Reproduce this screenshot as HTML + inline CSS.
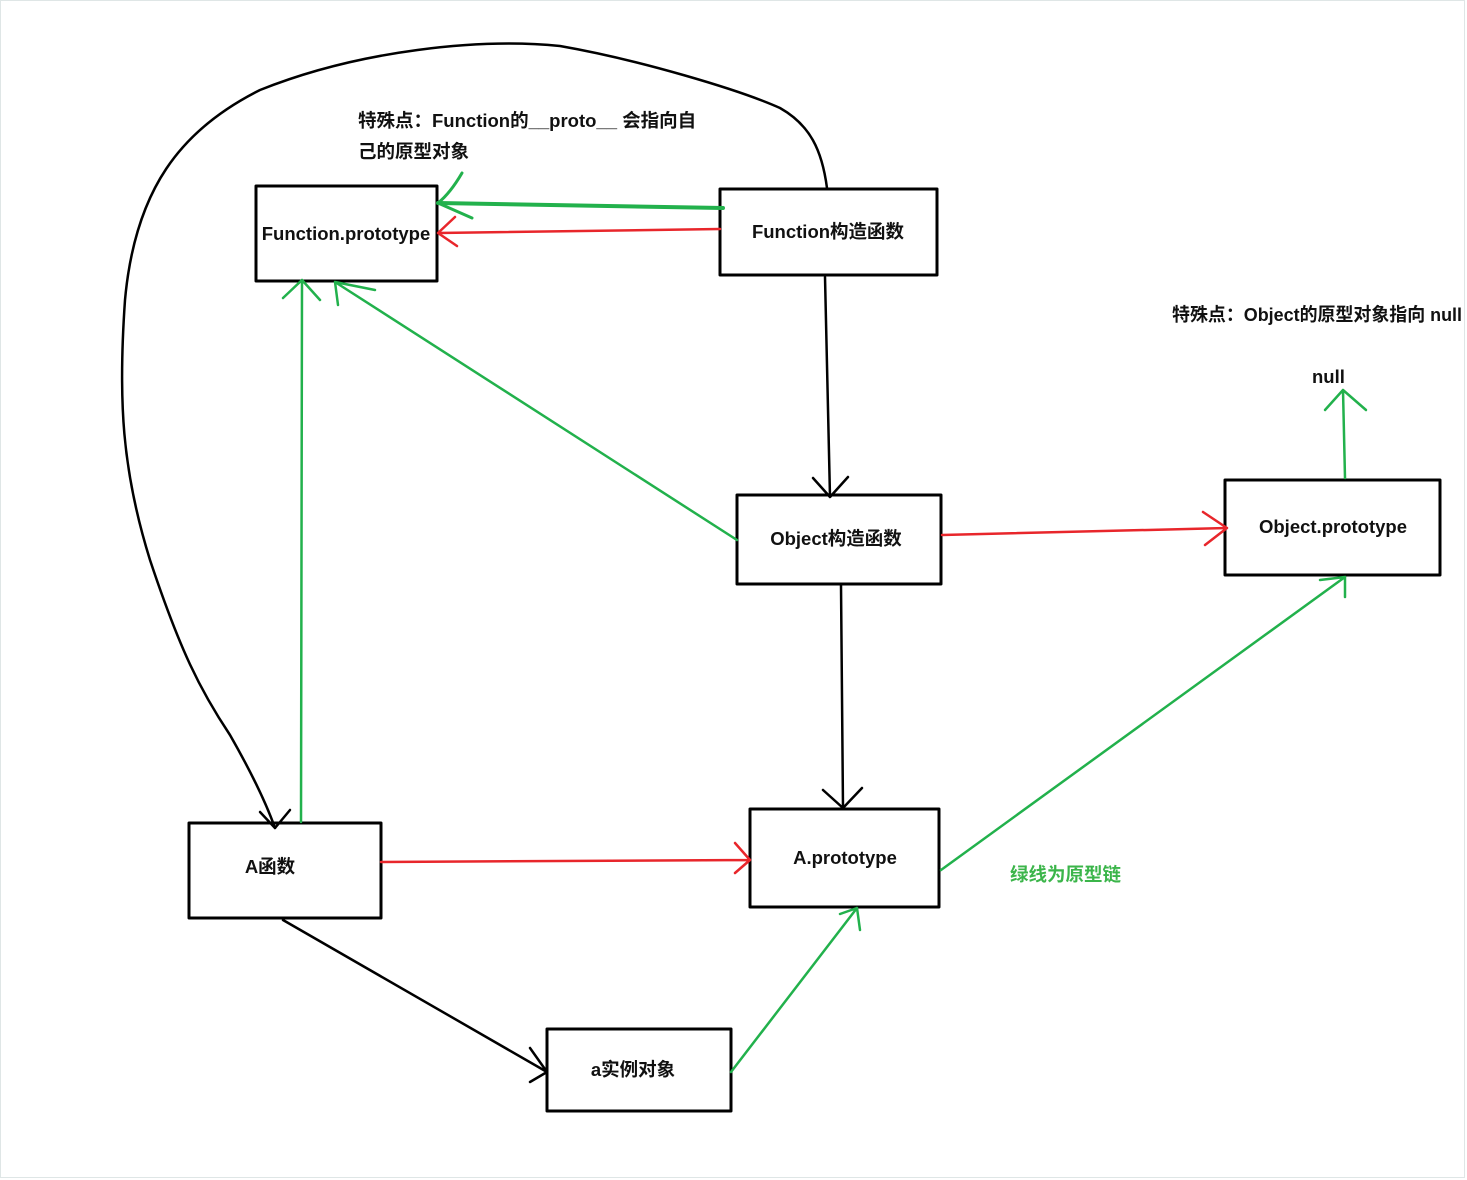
<!DOCTYPE html>
<html><head><meta charset="utf-8"><style>
html,body{margin:0;padding:0;background:#fff;}
svg{display:block}
text{font-family:"Liberation Sans","Noto Sans CJK SC",sans-serif;font-weight:bold;font-size:18.5px;fill:#111}
</style></head><body>
<svg width="1467" height="1180" viewBox="0 0 1467 1180" xmlns="http://www.w3.org/2000/svg">
<rect x="0.5" y="0.5" width="1464" height="1177" fill="#fff" stroke="#dfe6e6" stroke-width="1"/>
<g fill="none" stroke-linecap="round" stroke-linejoin="round">
<g stroke="#000" stroke-width="3">
<rect x="256" y="186" width="181" height="95"/>
<rect x="720" y="189" width="217" height="86"/>
<rect x="737" y="495" width="204" height="89"/>
<rect x="1225" y="480" width="215" height="95"/>
<rect x="189" y="823" width="192" height="95"/>
<rect x="750" y="809" width="189" height="98"/>
<rect x="547" y="1029" width="184" height="82"/>
</g>
<g stroke="#000" stroke-width="2.5">
<path d="M827,188 C822,150 810,125 780,108 C740,90 640,60 560,46 C480,38 360,50 260,90 C180,130 135,190 125,300 C118,400 122,470 150,560 C180,650 200,690 230,735 C250,770 265,800 275,828"/>
<path d="M260,812 L275,828 L290,810"/>
<path d="M825,277 L830,497 M813,478 L830,497 L848,477"/>
<path d="M841,585 L843,808 M823,790 L843,808 L862,788"/>
<path d="M283,920 L547,1072 M530,1048 L547,1072 L530,1082"/>
</g>
<g stroke="#e8262b" stroke-width="2.5">
<path d="M720,229 L438,233 M455,217 L438,233 L457,246"/>
<path d="M942,535 L1227,528 M1203,512 L1227,528 L1205,545"/>
<path d="M381,862 L750,860 M735,843 L750,860 L735,873"/>
</g>
<g stroke="#22b14c" stroke-width="2.5">
<path d="M723,208 L438,203" stroke-width="4"/>
<path d="M462,173 C455,185 448,195 438,203 L472,218" stroke-width="3"/>
<path d="M737,540 L335,282 M375,290 L335,282 L338,305"/>
<path d="M301,822 L302,280 M283,298 L302,280 L320,300"/>
<path d="M1345,478 L1343,390 M1325,410 L1343,390 L1366,410"/>
<path d="M941,870 L1345,577 M1320,580 L1345,577 L1345,597"/>
<path d="M731,1072 L857,908 M840,914 L857,908 L860,930"/>
</g>
</g>
<text x="358" y="127">特殊点：Function的__proto__ 会指向自</text>
<text x="358" y="158">己的原型对象</text>
<text x="1172" y="321" textLength="290" lengthAdjust="spacingAndGlyphs">特殊点：Object的原型对象指向 null</text>
<text x="1312" y="383">null</text>
<text x="346" y="240" text-anchor="middle">Function.prototype</text>
<text x="828" y="238" text-anchor="middle">Function构造函数</text>
<text x="836" y="545" text-anchor="middle">Object构造函数</text>
<text x="1333" y="533" text-anchor="middle">Object.prototype</text>
<text x="270" y="873" text-anchor="middle">A函数</text>
<text x="845" y="864" text-anchor="middle">A.prototype</text>
<text x="633" y="1076" text-anchor="middle">a实例对象</text>
<text x="1010" y="881" style="fill:#3bb54a">绿线为原型链</text>
</svg>
</body></html>
